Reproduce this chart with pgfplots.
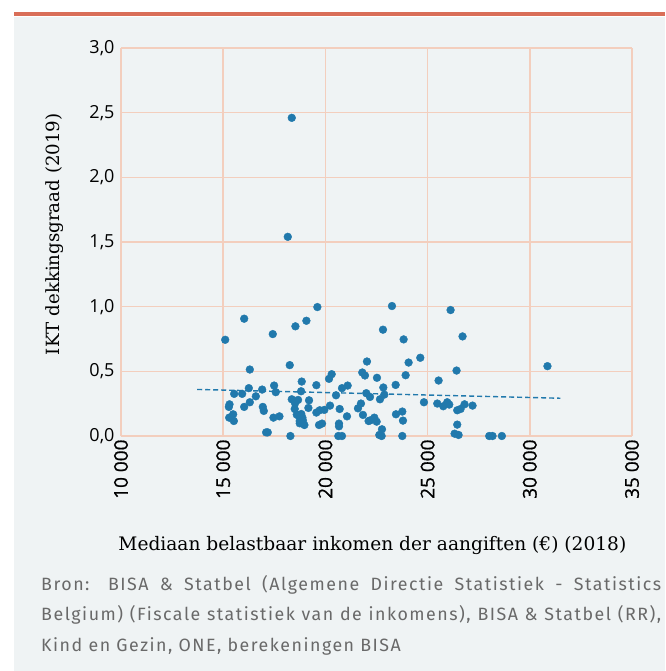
\documentclass[border=0pt]{standalone}
\usepackage{pgfplots}
\pgfplotsset{compat=1.18}
\usepackage{fontspec}
\setmainfont{DejaVu Serif}
\newfontfamily\tickfont{Open Sans}
\newfontfamily\xtickfont[FakeBold=0.7]{Open Sans}
\newfontfamily\srcfont[LetterSpace=8.5]{Fira Sans}
\definecolor{bgc}{RGB}{239,243,244}
\definecolor{gridc}{RGB}{243,206,189}
\definecolor{barc}{RGB}{217,110,88}
\definecolor{dotc}{RGB}{33,121,172}
\definecolor{srcc}{RGB}{105,105,105}
\begin{document}
\begin{tikzpicture}[x=1pt,y=1pt]
\useasboundingbox (0,0) rectangle (665,-671);
\fill[white] (0,0) rectangle (665,-671);
\fill[bgc] (14,-17) rectangle (665,-671);
\fill[barc] (14,-12.5) rectangle (665,-16.5);
\begin{axis}[
  at={(121pt,-436pt)}, anchor=south west,
  scale only axis, width=511pt, height=388pt,
  xmin=10000, xmax=35000, ymin=0, ymax=3,
  scaled x ticks=false,
  xtick={10000,15000,20000,25000,30000,35000},
  xticklabels={10 000,15 000,20 000,25 000,30 000,35 000},
  ytick={0,0.5,1,1.5,2,2.5,3},
  yticklabels={{0,0},{0,5},{1,0},{1,5},{2,0},{2,5},{3,0}},
  major tick length=0pt,
  axis x line=bottom, axis y line=left,
  axis line style={-, gridc, line width=2.8pt},
  grid=major,
  major grid style={gridc, line width=1.5pt},
  xticklabel style={font=\xtickfont\fontsize{19}{19}\selectfont, rotate=90, anchor=east},
  yticklabel style={font=\tickfont\fontsize{18}{18}\selectfont, xshift=-3pt},
  xlabel={Mediaan belastbaar inkomen der aangiften (€) (2018)},
  ylabel={IKT dekkingsgraad (2019)},
  xlabel style={font=\fontsize{18.6}{18.6}\selectfont, at={(axis description cs:0.492,-0.281)}, anchor=center},
  ylabel style={font=\fontsize{18.2}{18.2}\selectfont, at={(axis description cs:-0.129,0.52)}, anchor=center},
  clip=false,
]
\addplot[dotc, only marks, mark=*, mark size=3.9pt, mark options={draw=dotc, fill=dotc}] coordinates {
(15098,0.744) (16026,0.907) (17426,0.788) (18533,0.848) (19070,0.891) (19607,0.997)
(18355,2.46) (18160,1.54) (16302,0.514) (18256,0.548) (18842,0.421) (17491,0.390)
(16905,0.359) (16254,0.370) (15537,0.326) (15928,0.326) (16596,0.307) (16302,0.261)
(16026,0.225) (15309,0.245) (15277,0.225) (15293,0.142) (15488,0.168) (15521,0.116)
(16938,0.225) (16987,0.194) (17458,0.142) (17751,0.152) (17100,0.028) (17180,0.028)
(18288,0.0) (17572,0.339) (18810,0.346) (18354,0.284) (18663,0.279) (18516,0.253)
(18500,0.209) (19200,0.276) (19168,0.217) (19558,0.393) (18679,0.158) (18744,0.116)
(18875,0.142) (18972,0.085) (18744,0.098) (18600,0.165) (18900,0.120) (18820,0.170)
(19558,0.181) (19721,0.199) (19949,0.202) (19688,0.085) (19835,0.096) (20226,0.235)
(20177,0.442) (20307,0.478) (20519,0.315) (20812,0.370) (21089,0.390) (20698,0.209)
(21056,0.152) (20665,0.096) (20665,0.075) (20633,0.0) (20812,0.0) (21593,0.214)
(21739,0.251) (21837,0.163) (21804,0.491) (21935,0.468) (22033,0.576) (22000,0.331)
(22114,0.116)
(23257,1.005) (22817,0.822) (23827,0.747) (26124,0.974) (26710,0.770) (24071,0.568)
(24642,0.605) (22523,0.450) (23925,0.470) (23436,0.395) (22834,0.375) (22882,0.320)
(22670,0.284) (22182,0.302) (22198,0.121) (22393,0.142) (22507,0.111) (22637,0.008)
(22751,0.0) (22768,0.052) (23452,0.168) (23762,0.189) (23795,0.119) (23762,0.0)
(24821,0.261) (25538,0.429) (26417,0.506) (25473,0.251) (25766,0.230) (25961,0.261)
(26059,0.243) (26450,0.199) (26613,0.209) (26808,0.245) (27199,0.235) (26450,0.088)
(26320,0.018) (26515,0.008) (28014,0.0) (28177,0.0) (28633,0.0) (30864,0.540)
};
\addplot[dotc, line width=1.4pt, dash pattern=on 5pt off 3pt] coordinates {(13730,0.36) (31500,0.292)};
\end{axis}
\begin{scope}[every node/.style={anchor=base west, inner sep=0pt, font=\srcfont\fontsize{17.8}{17.8}\selectfont, text=srcc}]
\node at (41,-590) {\makebox[620pt][s]{Bron: BISA \& Statbel (Algemene Directie Statistiek - Statistics}};
\node at (41,-620.5) {\makebox[620pt][s]{Belgium) (Fiscale statistiek van de inkomens), BISA \& Statbel (RR),}};
\node at (41,-651) {Kind en Gezin, ONE, berekeningen BISA};
\end{scope}
\end{tikzpicture}
\end{document}
